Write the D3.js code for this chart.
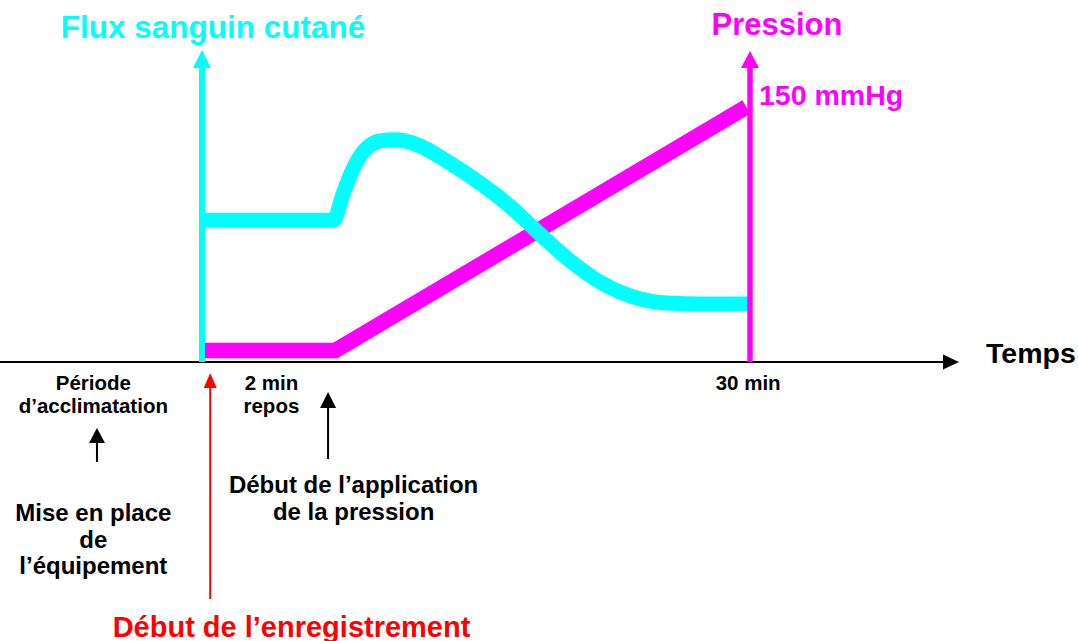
<!DOCTYPE html>
<html>
<head>
<meta charset="utf-8">
<script src="https://cdn.jsdelivr.net/npm/d3@7"></script>
<style>
  body { margin: 0; background: #fff; }
  svg { display: block; }
  text { font-family: "Liberation Sans", Arial, sans-serif; font-weight: bold; }
</style>
</head>
<body>
<div id="chart"></div>
<script>
// DATA (time in schematic units, 30 = "30 min")
const flowTime  = [0, 7.2, 7.7, 8.2, 8.9, 9.8, 10.6, 11.8, 13.4, 15.2, 16.9, 18.5, 20.1, 21.8, 22.9, 24.0, 25.5, 27.3, 29.9];
const flowValue = [45.4, 45.4, 53.5, 61.0, 67.9, 70.9, 71.2, 69.6, 64.4, 57.4, 49.7, 41.0, 32.7, 25.6, 22.4, 20.2, 18.9, 18.6, 18.6];

const pressTime  = [0, 7.3, 29.8];
const pressValue = [6.8, 6.8, 150];

const tickTimes  = [-5.95, 3.8, 29.9];
const tickLabels = [["Période", "d’acclimatation"], ["2 min", "repos"], ["30 min"]];

const eventTimes   = [-5.75, 6.9, 0.45];
const eventTextAt  = [-5.95, 8.3, 4.9];
const eventLabels  = [["Mise en place", "de", "l’équipement"],
                      ["Début de l’application", "de la pression"],
                      ["Début de l’enregistrement"]];

// 1. SVG
const width = 1078, height = 641;

const svg = d3.select("#chart")
    .append("svg")
    .attr("width", width)
    .attr("height", height);

// 2. SCALES
const x = d3.scaleLinear().domain([0, 30]).range([202, 750]);
const yFlow = d3.scaleLinear().domain([0, 100]).range([362, 50]);
const yPress = d3.scaleLinear().domain([0, 150]).range([362, 107]);

const CYAN = "#00ffff", MAGENTA = "#ff00ff", RED = "#ff0000";

// arrow pointing up (shaft + triangle head)
function arrowUp(px, yTip, yBottom, headLen, headW, shaftW, color) {
    svg.append("line")
        .attr("x1", px).attr("x2", px)
        .attr("y1", yBottom).attr("y2", yTip + headLen - 1)
        .attr("stroke", color)
        .attr("stroke-width", shaftW);
    svg.append("path")
        .attr("d", `M${px},${yTip} L${px - headW / 2},${yTip + headLen} L${px + headW / 2},${yTip + headLen} Z`)
        .attr("fill", color);
}

// 3. TIME AXIS
const y0 = yFlow(0);
svg.append("line")
    .attr("x1", 0).attr("x2", 944)
    .attr("y1", y0).attr("y2", y0)
    .attr("stroke", "#000")
    .attr("stroke-width", 2);
svg.append("path")
    .attr("d", `M959,${y0} L943,${y0 - 7.5} L943,${y0 + 7.5} Z`)
    .attr("fill", "#000");

svg.append("text")
    .attr("x", 986).attr("y", 363)
    .attr("font-size", "28.5px")
    .text("Temps");

// 4. CURVES
const pressLine = d3.line()
    .x((d, i) => x(pressTime[i]))
    .y(d => yPress(d));

svg.append("path")
    .datum(pressValue)
    .attr("d", pressLine)
    .attr("fill", "none")
    .attr("stroke", MAGENTA)
    .attr("stroke-width", 15.5)
    .attr("stroke-linejoin", "miter");

const flowLine = d3.line()
    .x((d, i) => x(flowTime[i]))
    .y(d => yFlow(d))
    .curve(d3.curveMonotoneX);

svg.append("path")
    .datum(flowValue)
    .attr("d", flowLine)
    .attr("fill", "none")
    .attr("stroke", CYAN)
    .attr("stroke-width", 15);

// 5. VERTICAL AXES
arrowUp(x(0), 50, y0, 18, 18, 6, CYAN);
arrowUp(x(30), 51, y0, 17, 18, 5.5, MAGENTA);

svg.append("text")
    .attr("x", 213).attr("y", 38)
    .attr("text-anchor", "middle")
    .attr("font-size", "31.5px")
    .attr("fill", CYAN)
    .text("Flux sanguin cutané");

svg.append("text")
    .attr("x", 777).attr("y", 34.5)
    .attr("text-anchor", "middle")
    .attr("font-size", "31px")
    .attr("fill", MAGENTA)
    .text("Pression");

svg.append("text")
    .attr("x", 759).attr("y", 105)
    .attr("font-size", "28.5px")
    .attr("fill", MAGENTA)
    .text(yPress.domain()[1] + " mmHg");

// 6. TICK LABELS
tickLabels.forEach((lines, i) => {
    const t = svg.append("text")
        .attr("text-anchor", "middle")
        .attr("font-size", "20.5px")
        .attr("fill", "#000");
    lines.forEach((s, j) => {
        t.append("tspan")
            .attr("x", x(tickTimes[i]))
            .attr("y", 390 + j * 22.5)
            .text(s);
    });
});

// 7. EVENT ARROWS + CAPTIONS
arrowUp(x(eventTimes[0]), 428, 462, 15, 16, 2, "#000");
arrowUp(x(eventTimes[1]), 392, 459, 16, 16, 2, "#000");
arrowUp(x(eventTimes[2]), 373, 599, 15, 13, 2, RED);

const eventStyle = [
    { y: 521, dy: 26.5, size: 24, color: "#000" },
    { y: 493, dy: 27, size: 24, color: "#000" },
    { y: 636.5, dy: 0, size: 29, color: RED }
];

eventLabels.forEach((lines, i) => {
    const st = eventStyle[i];
    const t = svg.append("text")
        .attr("text-anchor", "middle")
        .attr("font-size", st.size + "px")
        .attr("fill", st.color);
    lines.forEach((s, j) => {
        t.append("tspan")
            .attr("x", x(eventTextAt[i]))
            .attr("y", st.y + j * st.dy)
            .text(s);
    });
});
</script>
</body>
</html>
